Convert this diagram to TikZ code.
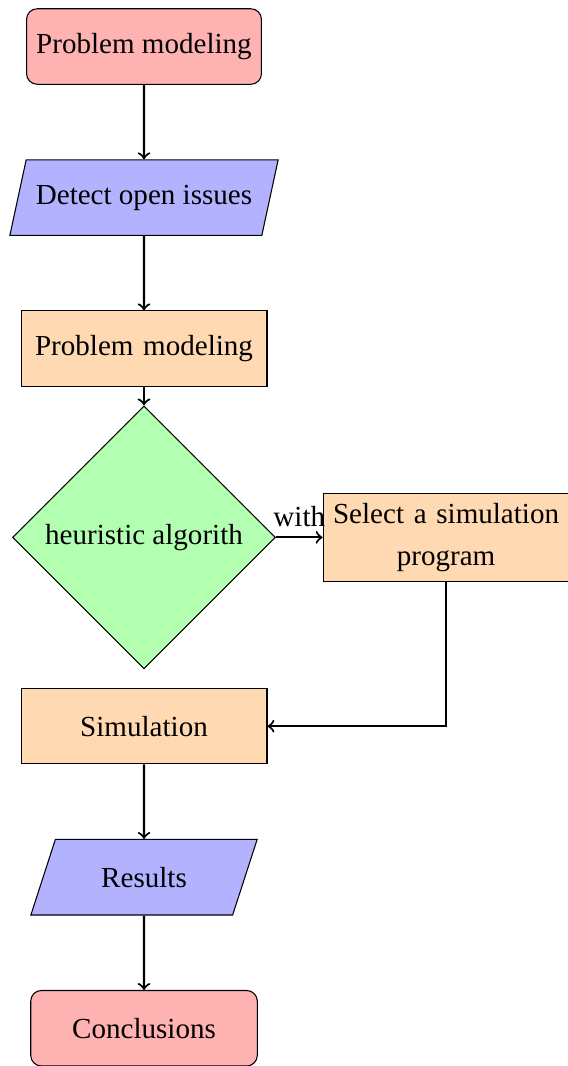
\documentclass[tikz,border=0pt,11pt]{standalone}
\usepackage{fontspec}
\setmainfont{Liberation Serif}
\usepackage{tikz}
\usetikzlibrary{shapes.geometric,arrows}
\tikzstyle{startstop} = [rectangle, rounded corners, minimum width=3cm, minimum height=1cm, text centered, draw=black, fill=red!30]
\tikzstyle{io} = [trapezium, trapezium left angle=70, trapezium right angle=110, trapezium stretches=true, minimum width=3cm, minimum height=1cm, text centered, draw=black, fill=blue!30]
\tikzstyle{process} = [rectangle, minimum width=3cm, minimum height=1cm, text centered, text width=3cm, draw=black, fill=orange!30, font={\hyphenpenalty=10000\relax\linespread{1.15}\selectfont}]
\tikzstyle{decision} = [diamond, minimum width=3cm, minimum height=1cm, text centered, draw=black, fill=green!30]
\tikzstyle{arrow} = [thick,->]

\begin{document}
\begin{tikzpicture}[node distance=2cm]
\useasboundingbox (-1.907,0.616) rectangle (5.614,-13.5);
\node (model) [startstop] {Problem modeling};
\node (detect) [io, below of=model] {Detect open issues};
\node (modeling) [process, below of=detect] {Problem modeling};
\node (heur) [decision, below of=modeling, yshift=-0.5cm] {heuristic algorith};
\node (select) [process, right of=heur, xshift=2cm] {Select a simulation program};
\node (sim) [process, below of=heur, yshift=-0.5cm] {Simulation};
\node (results) [io, below of=sim] {Results};
\node (concl) [startstop, below of=results] {Conclusions};
\draw [arrow] (model) -- (detect);
\draw [arrow] (detect) -- (modeling);
\draw [arrow] (modeling) -- (heur);
\draw [arrow] (heur) -- node[anchor=south] {with} (select);
\draw [arrow] (select) |- (sim);
\draw [arrow] (sim) -- (results);
\draw [arrow] (results) -- (concl);
\end{tikzpicture}
\end{document}
